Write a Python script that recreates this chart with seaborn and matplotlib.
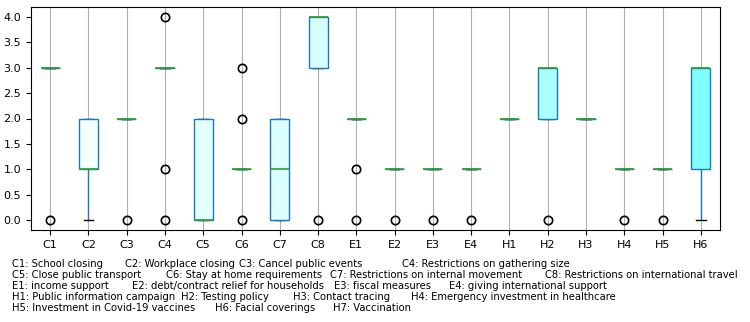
import pandas as pd
import matplotlib.pyplot as plt
import seaborn as sns

# 정책 코드
policies = ['C1', 'C2', 'C3', 'C4', 'C5', 'C6', 'C7', 'C8',
            'E1', 'E2', 'E3', 'E4', 'H1', 'H2', 'H3', 'H4', 'H5', 'H6']

# 각 정책별 값 (그림에서 읽은 분포)
c1 = [0] + [3] * 19
c2 = [0, 0] + [1] * 9 + [2] * 9
c3 = [0] + [2] * 19
c4 = [0, 1, 4] + [3] * 17
c5 = [0] * 11 + [1] * 2 + [2] * 7
c6 = [0, 2, 3] + [1] * 17
c7 = [0] * 6 + [1] * 6 + [2] * 8
c8 = [0] + [3] * 5 + [4] * 14
e1 = [0, 1] + [2] * 18
e2 = [0] + [1] * 19
e3 = [0] + [1] * 19
e4 = [0] + [1] * 19
h1 = [2] * 20
h2 = [0] + [2] * 5 + [3] * 14
h3 = [2] * 20
h4 = [0] + [1] * 19
h5 = [0] + [1] * 19
h6 = [0] + [1] * 5 + [2] + [3] * 13

values = [c1, c2, c3, c4, c5, c6, c7, c8, e1, e2, e3, e4, h1, h2, h3, h4, h5, h6]

# 박스 색상
box_colors = ['#ffffff', '#f4ffff', '#ffffff', '#ffffff', '#e3ffff', '#ffffff',
              '#dcffff', '#d8ffff', '#ffffff', '#ffffff', '#ffffff', '#ffffff',
              '#ffffff', '#aaffff', '#ffffff', '#ffffff', '#ffffff', '#80ffff']

# 범례 텍스트 (줄별)
legend_lines = [
    ['C1: School closing', 'C2: Workplace closing', 'C3: Cancel public events',
     'C4: Restrictions on gathering size'],
    ['C5: Close public transport', 'C6: Stay at home requirements',
     'C7: Restrictions on internal movement', 'C8: Restrictions on international travel'],
    ['E1: income support', 'E2: debt/contract relief for households', 'E3: fiscal measures',
     'E4: giving international support'],
    ['H1: Public information campaign', 'H2: Testing policy', 'H3: Contact tracing',
     'H4: Emergency investment in healthcare'],
    ['H5: Investment in Covid-19 vaccines', 'H6: Facial coverings', 'H7: Vaccination'],
]
legend_x = [
    [12, 125, 239, 402],
    [12, 166, 330, 545],
    [12, 132, 334, 449],
    [12, 181, 293, 411],
    [12, 215, 333],
]
legend_y = [264, 275, 286, 297, 308]

rows = []
for p, vals in zip(policies, values):
    for v in vals:
        rows.append([p, v])
df = pd.DataFrame(rows, columns=['policy', 'value'])

plt.rcParams['font.family'] = ['DejaVu Sans']
fig = plt.figure(figsize=(7.5, 3.22), dpi=100)
ax = fig.add_axes([31 / 750, 1 - 230 / 322, 689 / 750, 223 / 322])

sns.boxplot(data=df, x='policy', y='value', hue='policy', palette=box_colors,
            legend=False, width=0.5, saturation=1, linewidth=1, ax=ax,
            boxprops=dict(edgecolor='#1f77b4', zorder=2.5),
            whiskerprops=dict(color='#1f77b4', zorder=2),
            capprops=dict(color='black', zorder=2),
            medianprops=dict(color='#2ca02c', zorder=3, linewidth=1.2),
            flierprops=dict(marker='o', markerfacecolor='none', zorder=3,
                            markeredgecolor='black', markersize=6, markeredgewidth=1.2))

ax.set_xlim(-0.5, 17.5)
ax.set_ylim(-0.2, 4.2)
ax.set_yticks([0, 0.5, 1, 1.5, 2, 2.5, 3, 3.5, 4])
ax.set_yticklabels(['%.1f' % t for t in ax.get_yticks()])
ax.set_xlabel('')
ax.set_ylabel('')
ax.tick_params(labelsize=8)
ax.grid(axis='x', color='#b0b0b0', linewidth=0.8)
ax.set_axisbelow(True)

# 범례 설명 텍스트
for line, xs, y in zip(legend_lines, legend_x, legend_y):
    for txt, x in zip(line, xs):
        fig.text(x / 750, 1 - y / 322, txt, fontsize=7.2, va='center', ha='left')

plt.savefig('out.png', dpi=100)
